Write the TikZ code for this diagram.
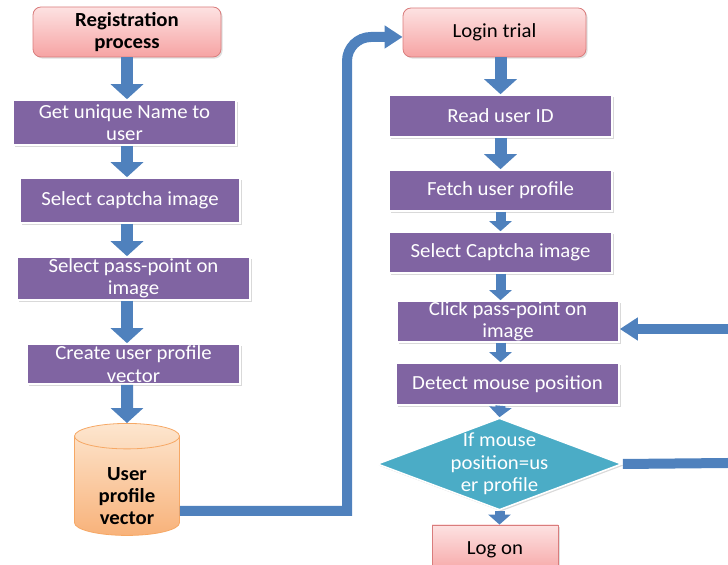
\documentclass[tikz,border=0pt]{standalone}
\usepackage{fontspec}
\setmainfont{Carlito}[FakeStretch=1.04]
\usetikzlibrary{arrows.meta,shapes.geometric,shadows}
\definecolor{procfill}{HTML}{8064A2}
\definecolor{testfill}{HTML}{4BACC6}
\definecolor{flowblue}{HTML}{4F81BD}
\definecolor{pinktop}{HTML}{FDE2E2}
\definecolor{pinkbot}{HTML}{F6A3A3}
\definecolor{pinkedge}{HTML}{D97C7C}
\definecolor{cyltop}{HTML}{FDE6CF}
\definecolor{cylbot}{HTML}{F8B27A}
\definecolor{cyledge}{HTML}{F6A865}
\newcommand\boxfont{\fontsize{10}{11.2}\selectfont}
\tikzset{>={Triangle[width=16pt,length=7.5pt]}}
\tikzset{
  procbox/.style={rectangle, fill=procfill, draw=white, line width=0.8pt,
    text=white, align=center, inner sep=0pt,
    drop shadow={opacity=0.3, shadow xshift=0.8pt, shadow yshift=-0.8pt}},
  termbox/.style={rectangle, top color=pinktop, bottom color=pinkbot,
    draw=pinkedge, line width=0.4pt, align=center, inner sep=0pt,
    drop shadow={opacity=0.25, shadow xshift=0.8pt, shadow yshift=-0.8pt}},
  decisionbox/.style={diamond, fill=testfill, draw=white, line width=0.8pt,
    inner sep=0pt, drop shadow={opacity=0.3, shadow xshift=0.8pt, shadow yshift=-0.8pt}},
  dbcyl/.style={cylinder, shape border rotate=90, aspect=0.45,
    top color=cyltop, bottom color=cylbot, draw=cyledge, line width=0.4pt,
    font=\boxfont\bfseries, align=center, inner sep=0pt},
  flow/.style={->, line width=6pt, draw=flowblue},
  shortflow/.style={-{Triangle[width=11pt,length=5pt]}, line width=5pt, draw=flowblue},
  bentflow/.style={-{Triangle[width=11pt,length=9pt]}, line width=5pt, draw=flowblue},
  flowline/.style={line width=5pt, draw=flowblue}
}
\begin{document}
\begin{tikzpicture}[x=0.5pt, y=-0.5pt, font=\boxfont]
  \useasboundingbox (0,0) rectangle (728,565);
  \clip (0,0) rectangle (728,565);

  % registration side
  \node[termbox, rounded corners=4pt, minimum width=94pt, minimum height=25pt, font=\boxfont\bfseries]
    (reg) at (127,32) {Registration\\process};
  \node[procbox, minimum width=111.5pt, minimum height=22.5pt] (getname) at (124.5,122.5) {Get unique Name to\\user};
  \node[procbox, minimum width=110pt, minimum height=22.5pt] (selcap) at (130,200.5) {Select captcha image};
  \node[procbox, minimum width=116.5pt, minimum height=21.5pt] (selpp) at (133.5,278.5) {Select pass-point on\\image};
  \node[procbox, minimum width=106.5pt, minimum height=20pt] (create) at (133.5,364) {Create user profile\\vector};
  \node[dbcyl, minimum width=52.5pt, minimum height=56pt] (store) at (127,486)
    {\phantom{User}\\\phantom{profile}\\\phantom{vector}};
  \node[font=\boxfont\bfseries, align=center] (storetext) at ([yshift=-5pt]store.center) {User\\profile\\vector};

  \draw[flow] (reg.south) -- (reg.south |- getname.north);
  \draw[flow] (getname.south -| reg.south) -- (reg.south |- selcap.north);
  \draw[flow] (selcap.south -| reg.south) -- (reg.south |- selpp.north);
  \draw[flow] (selpp.south -| reg.south) -- (reg.south |- create.north);
  \draw[flow] (create.south -| reg.south) -- (store.north);

  % login side
  \node[termbox, rounded corners=4pt, minimum width=91.5pt, minimum height=24.5pt] (login) at (494.5,32.5) {Login trial};
  \node[procbox, minimum width=111.5pt, minimum height=21pt] (readid) at (500.5,116) {Read user ID};
  \node[procbox, minimum width=111.5pt, minimum height=20.5pt] (fetch) at (500.5,190.5) {Fetch user profile};
  \node[procbox, minimum width=111.5pt, minimum height=20.5pt] (selcapb) at (500.5,252.5) {Select Captcha image};
  \node[procbox, minimum width=111pt, minimum height=20.5pt] (click) at (508,321.5) {Click pass-point on\\image};
  \node[procbox, minimum width=111.5pt, minimum height=21pt] (detect) at (507.5,384) {Detect mouse position};
  \node[decisionbox, minimum width=122.5pt, minimum height=46pt] (decide) at (499.5,464) {};
  \node[text=white, align=center] (decidetext) at (decide.center) {If mouse\\position=us\\er profile};
  \node[termbox, minimum width=63pt, minimum height=25pt] (logon) at (495,550) {Log on};

  \draw[flow] (readid.north |- login.south) -- (readid.north);
  \draw[flow] (readid.south) -- (fetch.north);
  \draw[shortflow] (fetch.south) -- (selcapb.north);
  \draw[shortflow] (selcapb.south) -- (selcapb.south |- click.north);
  \draw[shortflow] (selcapb.south |- click.south) -- (selcapb.south |- detect.north);
  \draw[shortflow] (selcapb.south |- detect.south) -- (decide.north);
  \draw[shortflow] (decide.south) -- (decide.south |- logon.north);

  % store to login
  \coordinate (bendlow) at (347,511);
  \coordinate (bendtop) at (347,37);
  \draw[bentflow] (bendlow -| store.east) -- (bendlow) [rounded corners=12pt] -- (bendtop) -- (bendtop -| login.west);

  % retry loop
  \coordinate (loopin) at (728,329);
  \coordinate (loopout) at (728,463);
  \draw[bentflow] (loopin) -- (loopin -| click.east);
  \draw[flowline] (decide.east) -- (loopout);
\end{tikzpicture}
\end{document}
